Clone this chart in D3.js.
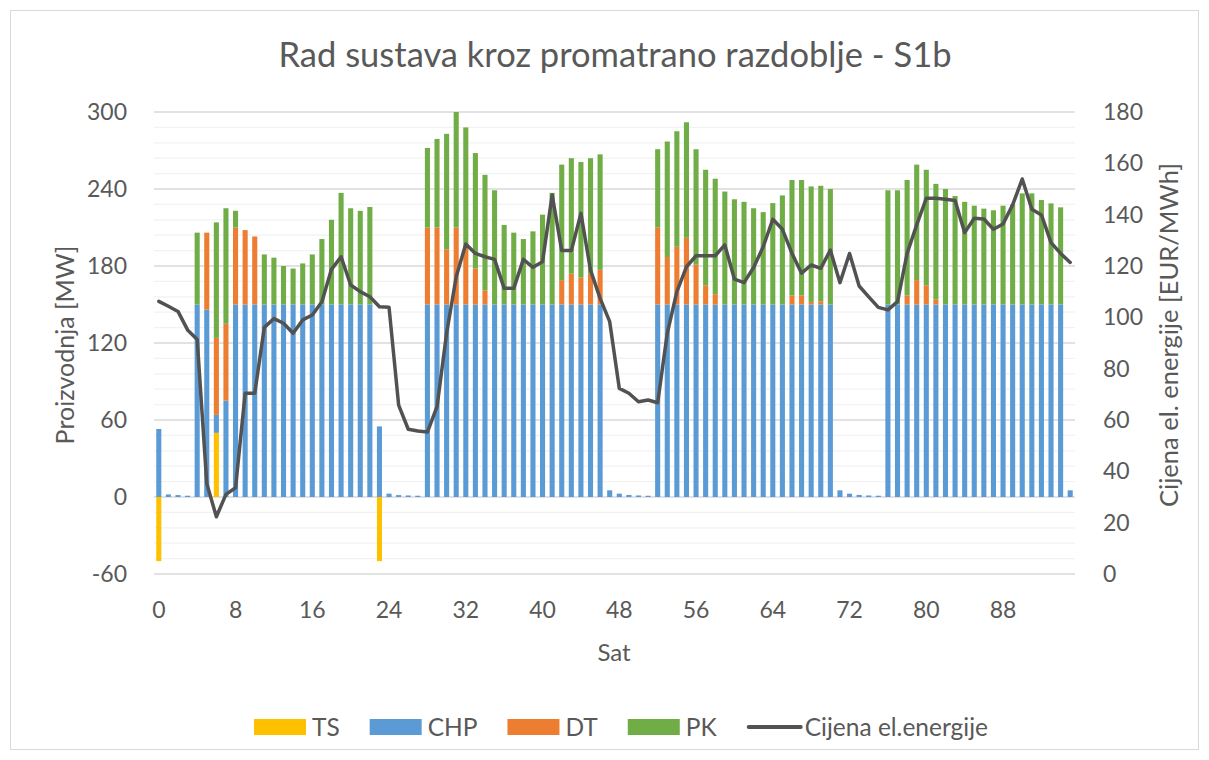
<!DOCTYPE html>
<html>
<head>
<meta charset="utf-8">
<script src="https://cdn.jsdelivr.net/npm/d3@7/dist/d3.min.js"></script>
<style>
  body { margin: 0; background: #fff; }
  svg text { font-family: Lato, "Open Sans", sans-serif; fill: #595959; }
</style>
</head>
<body>
<svg id="chart" width="1209" height="760"></svg>
<script>
// hours 0..95
var hours = d3.range(96);
var xTicks = [0, 8, 16, 24, 32, 40, 48, 56, 64, 72, 80, 88];
var leftTicks = [-60, 0, 60, 120, 180, 240, 300];
var rightTicks = [0, 20, 40, 60, 80, 100, 120, 140, 160, 180];

// production [MW]
var TS = [-50, 0, 0, 0, 0, 0, 50, 0, 0, 0,
  0, 0, 0, 0, 0, 0, 0, 0, 0, 0,
  0, 0, 0, -50, 0, 0, 0, 0, 0, 0,
  0, 0, 0, 0, 0, 0, 0, 0, 0, 0,
  0, 0, 0, 0, 0, 0, 0, 0, 0, 0,
  0, 0, 0, 0, 0, 0, 0, 0, 0, 0,
  0, 0, 0, 0, 0, 0, 0, 0, 0, 0,
  0, 0, 0, 0, 0, 0, 0, 0, 0, 0,
  0, 0, 0, 0, 0, 0, 0, 0, 0, 0,
  0, 0, 0, 0, 0, 0];
var CHP = [53, 2, 1.5, 1, 150, 146, 14, 75, 150, 150,
  150, 150, 150, 150, 150, 150, 150, 150, 150, 150,
  150, 150, 150, 55, 2.6, 1.5, 1.2, 1, 150, 150,
  150, 150, 150, 150, 150, 150, 150, 150, 150, 150,
  150, 150, 150, 150, 150, 150, 150, 5.2, 2.6, 1.6,
  1.2, 1, 150, 150, 150, 150, 150, 150, 150, 150,
  150, 150, 150, 150, 150, 150, 150, 150, 150, 150,
  150, 5.2, 2.6, 1.6, 1.2, 1, 150, 150, 150, 150,
  150, 150, 150, 150, 150, 150, 150, 150, 150, 150,
  150, 150, 150, 150, 150, 5.2];
var DT = [0, 0, 0, 0, 0, 60, 60, 60, 60, 58,
  53, 0, 0, 0, 0, 0, 0, 0, 0, 0,
  0, 0, 0, 0, 0, 0, 0, 0, 60, 60,
  43, 60, 47, 28, 11, 0, 0, 0, 0, 0,
  0, 0, 19, 24, 21, 24, 27, 0, 0, 0,
  0, 0, 60, 37, 45, 52, 31, 15, 8, 0,
  0, 0, 0, 0, 0, 0, 7, 7, 2, 2.5,
  0, 0, 0, 0, 0, 0, 0, 0, 7, 19,
  15, 4, 0, 0, 0, 0, 0, 0, 0, 0,
  0, 0, 0, 0, 0, 0];
var PK = [0, 0, 0, 0, 56, 0, 90, 90, 13, 0,
  0, 39, 36.5, 30, 28, 32, 39, 51, 66, 87,
  75, 73, 76, 0, 0, 0, 0, 0, 62, 69,
  90, 90, 91, 90, 90, 89, 62, 56, 51, 57,
  70, 87, 90, 90, 90, 90, 90, 0, 0, 0,
  0, 0, 61, 90, 90, 90, 90, 90, 90, 88,
  82, 80, 75, 72, 79, 85, 90, 90, 90, 90,
  90, 0, 0, 0, 0, 0, 89, 89, 90, 90,
  90, 90, 90, 84.5, 80, 77, 74.7, 73.4, 77, 78,
  86.6, 86.6, 81.4, 78.8, 75.7, 0];

// electricity price [EUR/MWh]
var price = [106.2, 104.3, 102.3, 95.1, 91.4, 35.3, 22.3, 31, 33.6, 70.4,
  70.4, 96.1, 99.5, 97.7, 93.8, 99, 100.9, 106.1, 118.7, 123.6,
  112.6, 110, 108, 104.1, 103.9, 65.8, 56.4, 55.7, 55.3, 65.2,
  93.8, 115.8, 128.6, 124.9, 123.6, 122.6, 111.3, 111.3, 122.6, 119.5,
  121.7, 147.7, 126, 126, 140.5, 118.4, 107.4, 98.3, 72.3, 70.4,
  67.1, 67.8, 66.7, 93.8, 110, 119.7, 124, 124, 124, 128.2,
  114.9, 113.5, 119.4, 127.5, 138.2, 134.3, 124.9, 117.2, 120.4, 119.1,
  126.2, 113.5, 124.9, 112.2, 108, 103.9, 102.9, 106.1, 124.9, 136,
  146.4, 146.4, 146, 145.5, 133, 138.6, 138.3, 134.3, 136.4, 143.8,
  153.9, 142.1, 139.9, 129.1, 124.9, 121.4];

var keys = ["TS", "CHP", "DT", "PK"];
var colors = {TS: "#FFC000", CHP: "#5B9BD5", DT: "#ED7D31", PK: "#70AD47"};

var svg = d3.select("#chart");
var plot = {left: 154, right: 1075, top: 112, bottom: 574};

// outer border
svg.append("rect")
  .attr("x", 10.5).attr("y", 10.5)
  .attr("width", 1188).attr("height", 739)
  .attr("fill", "#fff")
  .attr("stroke", "#d9d9d9")
  .attr("stroke-width", 1);

var x = d3.scaleBand()
  .domain(hours)
  .range([plot.left, plot.right])
  .paddingInner(0.47)
  .paddingOuter(0.235);

var yL = d3.scaleLinear().domain([-60, 300]).range([plot.bottom, plot.top]);
var yR = d3.scaleLinear().domain([0, 180]).range([plot.bottom, plot.top]);

// gridlines: light minor every 12, darker major every 60
var minor = d3.range(-60, 301, 12).filter(function(v) { return v % 60 !== 0; });
svg.append("g")
  .selectAll("line")
  .data(minor)
  .enter().append("line")
  .attr("x1", plot.left).attr("x2", plot.right)
  .attr("y1", function(d) { return yL(d); })
  .attr("y2", function(d) { return yL(d); })
  .attr("stroke", "#f2f2f2")
  .attr("stroke-width", 1.2);

svg.append("g")
  .selectAll("line")
  .data(leftTicks)
  .enter().append("line")
  .attr("x1", plot.left).attr("x2", plot.right)
  .attr("y1", function(d) { return yL(d); })
  .attr("y2", function(d) { return yL(d); })
  .attr("stroke", "#d9d9d9")
  .attr("stroke-width", 1.4);

// stacked bars
var rows = hours.map(function(h, i) {
  return {hour: h, TS: TS[i], CHP: CHP[i], DT: DT[i], PK: PK[i]};
});
var series = d3.stack().keys(keys).offset(d3.stackOffsetDiverging)(rows);

svg.append("g")
  .selectAll("g")
  .data(series)
  .enter().append("g")
  .attr("fill", function(d) { return colors[d.key]; })
  .selectAll("rect")
  .data(function(d) { return d; })
  .enter().append("rect")
  .attr("x", function(d) { return x(d.data.hour); })
  .attr("width", x.bandwidth())
  .attr("y", function(d) { return yL(Math.max(d[0], d[1])); })
  .attr("height", function(d) { return Math.abs(yL(d[0]) - yL(d[1])); });

// price line
var line = d3.line()
  .x(function(d, i) { return x(hours[i]) + x.bandwidth() / 2; })
  .y(function(d) { return yR(d); });

svg.append("path")
  .datum(price)
  .attr("fill", "none")
  .attr("stroke", "#525252")
  .attr("stroke-width", 3.5)
  .attr("stroke-linejoin", "round")
  .attr("stroke-linecap", "round")
  .attr("d", line);

// axes (plain hyphen for negatives, like Excel)
var fmt = function(d) { return String(d); };
var axL = svg.append("g")
  .attr("transform", "translate(" + plot.left + ",0)")
  .call(d3.axisLeft(yL).tickValues(leftTicks).tickFormat(fmt).tickSize(0).tickPadding(27));
var axR = svg.append("g")
  .attr("transform", "translate(" + plot.right + ",0)")
  .call(d3.axisRight(yR).tickValues(rightTicks).tickFormat(fmt).tickSize(0).tickPadding(28));
var axB = svg.append("g")
  .attr("transform", "translate(0," + plot.bottom + ")")
  .call(d3.axisBottom(x).tickValues(xTicks).tickFormat(fmt).tickSize(0).tickPadding(28));

[axL, axR, axB].forEach(function(a) {
  a.select(".domain").remove();
  a.selectAll("text")
    .style("font-size", "23px")
    .attr("fill", "#595959")
    .style("font-family", "Lato, 'Open Sans', sans-serif");
});

// titles
svg.append("text")
  .attr("x", 615).attr("y", 67)
  .attr("text-anchor", "middle")
  .style("font-size", "34.5px")
  .text("Rad sustava kroz promatrano razdoblje - S1b");

svg.append("text")
  .attr("x", 614).attr("y", 661)
  .attr("text-anchor", "middle")
  .style("font-size", "24px")
  .text("Sat");

svg.append("text")
  .attr("transform", "translate(74,345) rotate(-90)")
  .attr("text-anchor", "middle")
  .style("font-size", "25px")
  .text("Proizvodnja [MW]");

svg.append("text")
  .attr("transform", "translate(1178,335) rotate(-90)")
  .attr("text-anchor", "middle")
  .style("font-size", "25.5px")
  .text("Cijena el. energije [EUR/MWh]");

// legend
var legendItems = [
  {name: "TS", type: "rect", color: colors.TS},
  {name: "CHP", type: "rect", color: colors.CHP},
  {name: "DT", type: "rect", color: colors.DT},
  {name: "PK", type: "rect", color: colors.PK},
  {name: "Cijena el.energije", type: "line", color: "#525252"}
];
var legend = svg.append("g");
var lx = 0;
legendItems.forEach(function(item) {
  var g = legend.append("g").attr("transform", "translate(" + lx + ",0)");
  if (item.type === "rect") {
    g.append("rect").attr("x", 0).attr("y", -8).attr("width", 52).attr("height", 16)
      .attr("fill", item.color);
  } else {
    g.append("line").attr("x1", 2).attr("x2", 54).attr("y1", 0).attr("y2", 0)
      .attr("stroke", item.color).attr("stroke-width", 4).attr("stroke-linecap", "round");
  }
  var t = g.append("text")
    .attr("x", 58).attr("y", 8.5)
    .style("font-size", "24.5px")
    .text(item.name);
  lx += 58 + t.node().getComputedTextLength() + 30;
});
lx -= 30;
legend.attr("transform", "translate(" + (621 - lx / 2) + ",727)");
</script>
</body>
</html>
